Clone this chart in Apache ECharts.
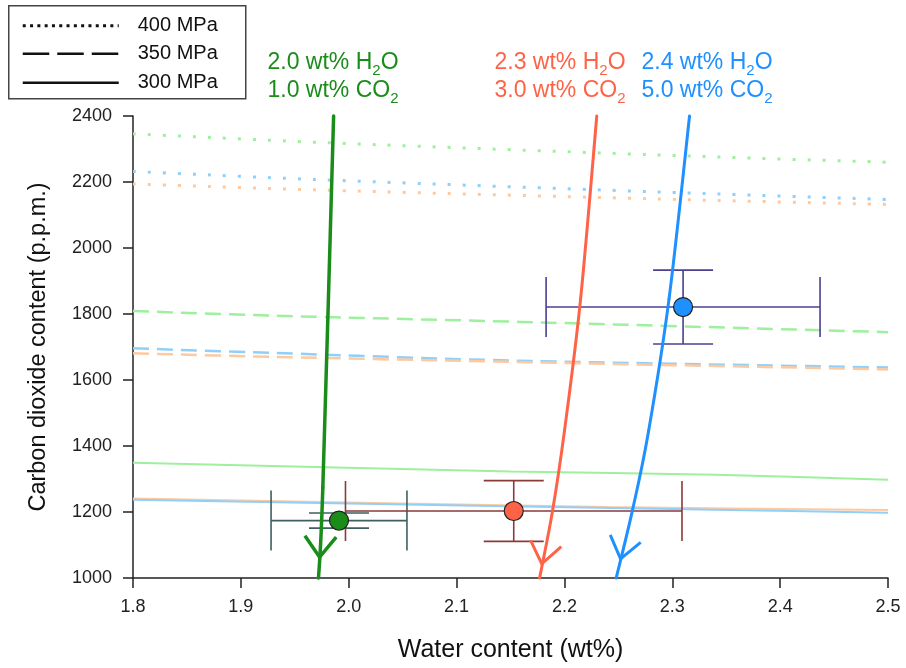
<!DOCTYPE html>
<html>
<head>
<meta charset="utf-8">
<script src="https://cdn.jsdelivr.net/npm/echarts@6/dist/echarts.min.js"></script>
<style>
  html, body { margin: 0; padding: 0; background: #fff; }
  #chart { width: 906px; height: 668px; }
</style>
</head>
<body>
<div id="chart"></div>
<script>
// Axis ticks
const xTicks = [1.8, 1.9, 2.0, 2.1, 2.2, 2.3, 2.4, 2.5];
const yTicks = [1000, 1200, 1400, 1600, 1800, 2000, 2200, 2400];

// Saturation isobars [H2O wt%, CO2 ppm] for the three melt compositions
const iso400Green  = [[1.80, 2346], [1.98, 2319], [2.33, 2277], [2.50, 2260]];
const iso400Blue   = [[1.80, 2232], [1.98, 2206], [2.33, 2165], [2.50, 2147]];
const iso400Orange = [[1.80, 2194], [1.98, 2175], [2.33, 2145], [2.50, 2132]];
const iso350Green  = [[1.80, 1809], [1.93, 1795], [2.16, 1776], [2.50, 1745]];
const iso350Blue   = [[1.80, 1696], [1.93, 1682], [2.15, 1659], [2.50, 1638]];
const iso350Orange = [[1.80, 1681], [1.93, 1670], [2.15, 1655], [2.50, 1632]];
const iso300Green  = [[1.80, 1349], [2.15, 1323], [2.34, 1313], [2.50, 1298]];
const iso300Orange = [[1.80, 1241], [2.24, 1215], [2.50, 1206]];
const iso300Blue   = [[1.80, 1237], [2.34, 1207], [2.50, 1198]];

// Degassing paths
const pathGreen  = [[1.986, 2400], [1.976, 1274], [1.972, 1000]];
const pathOrange = [[2.230, 2400], [2.215, 1846], [2.200, 1445], [2.189, 1204], [2.177, 1000]];
const pathBlue   = [[2.316, 2400], [2.297, 1846], [2.278, 1445], [2.263, 1204], [2.248, 1000]];
// Arrowhead tips on each path, and a point further up each path for the direction
const arrowTips = [[1.973, 1063], [2.179, 1043], [2.252, 1058]];
const arrowFrom = [[1.976, 1274], [2.189, 1204], [2.263, 1204]];

// Measured inclusions: H2O, CO2, H2O error, CO2 error
const sampleH2O    = [1.991, 2.153, 2.310];
const sampleCO2    = [1174, 1203, 1821];
const sampleH2OErr = [0.063, 0.156, 0.127];
const sampleCO2Err = [23, 92, 112];

// Melt composition labels
const meltH2O = ['2.0', '2.3', '2.4'];
const meltCO2 = ['1.0', '3.0', '5.0'];

const cGreen = '#1a8c1a', cOrange = '#ff6347', cBlue = '#1e90ff';
const lightGreen = '#9ef09e', lightBlue = '#8fd0fa', lightOrange = '#ffc9a0';
const errColors = ['#3f5f5f', '#8b3a3a', '#4b3f8f'];
const pathColors = [cGreen, cOrange, cBlue];
const FONT = 'Liberation Sans, Arial, sans-serif';

function isobar(data, color, type) {
  const ls = { color: color, width: type === 'dotted' ? 3 : (type === 'dashed' ? 2.5 : 2), cap: 'butt' };
  if (type === 'dotted') ls.type = [3, 12];
  else if (type === 'dashed') ls.type = [16, 8];
  return { type: 'line', data: data, showSymbol: false, smooth: 0.3, lineStyle: ls, z: 1, silent: true };
}

// Degassing path drawn as a Catmull-Rom spline through its points
function spline(data, color, w) {
  return {
    type: 'custom', z: 3, silent: true, data: data,
    renderItem: function (params, api) {
      const i = params.dataIndex, n = data.length;
      if (i >= n - 1) return { type: 'group', children: [] };
      const P = function (k) { k = Math.max(0, Math.min(n - 1, k)); return api.coord(data[k]); };
      const p0 = P(i - 1), p1 = P(i), p2 = P(i + 1), p3 = P(i + 2);
      return {
        type: 'bezierCurve',
        shape: {
          x1: p1[0], y1: p1[1], x2: p2[0], y2: p2[1],
          cpx1: p1[0] + (p2[0] - p0[0]) / 6, cpy1: p1[1] + (p2[1] - p0[1]) / 6,
          cpx2: p2[0] - (p3[0] - p1[0]) / 6, cpy2: p2[1] - (p3[1] - p1[1]) / 6
        },
        style: { stroke: color, lineWidth: w, fill: null, lineCap: 'round' }
      };
    }
  };
}

const chart = echarts.init(document.getElementById('chart'));

const labelGraphics = [];
const labelCenters = [333, 560, 707];
meltH2O.forEach(function (h, i) {
  const rich = {
    n: { fontSize: 23, fontFamily: FONT, fill: pathColors[i], lineHeight: 27, verticalAlign: 'top' },
    s: { fontSize: 15, fontFamily: FONT, fill: pathColors[i], lineHeight: 10, verticalAlign: 'bottom' }
  };
  labelGraphics.push({
    type: 'text', x: labelCenters[i], y: 51,
    style: { text: '{n|' + h + ' wt% H}{s|2}{n|O}', rich: rich, fill: pathColors[i], align: 'center', verticalAlign: 'top' }
  });
  labelGraphics.push({
    type: 'text', x: labelCenters[i], y: 79,
    style: { text: '{n|' + meltCO2[i] + ' wt% CO}{s|2}', rich: rich, fill: pathColors[i], align: 'center', verticalAlign: 'top' }
  });
});

const legendText = { fontSize: 20, fontFamily: FONT, fill: '#111', verticalAlign: 'middle' };
const legendGraphic = {
  type: 'group', left: 8, top: 5,
  children: [
    { type: 'rect', shape: { x: 0, y: 0, width: 237, height: 93 }, style: { fill: '#fff', stroke: '#444', lineWidth: 1.5 } },
    { type: 'line', shape: { x1: 14, y1: 20, x2: 110, y2: 20 }, style: { stroke: '#111', lineWidth: 3, lineDash: [3, 4.3] } },
    { type: 'line', shape: { x1: 14, y1: 48, x2: 110, y2: 48 }, style: { stroke: '#111', lineWidth: 2.5, lineDash: [26.5, 8] } },
    { type: 'line', shape: { x1: 14, y1: 77, x2: 110, y2: 77 }, style: { stroke: '#111', lineWidth: 2.5 } },
    { type: 'text', x: 129, y: 20, style: Object.assign({ text: '400 MPa' }, legendText) },
    { type: 'text', x: 129, y: 48, style: Object.assign({ text: '350 MPa' }, legendText) },
    { type: 'text', x: 129, y: 77, style: Object.assign({ text: '300 MPa' }, legendText) }
  ]
};

const samples = sampleH2O.map(function (x, i) {
  return [x, sampleCO2[i], sampleH2OErr[i], sampleCO2Err[i]];
});

const option = {
  animation: false,
  backgroundColor: '#fff',
  grid: { left: 133, right: 18, top: 116, bottom: 87 },
  xAxis: {
    type: 'value', min: xTicks[0], max: xTicks[xTicks.length - 1], interval: 0.1,
    name: 'Water content (wt%)', nameLocation: 'middle', nameGap: 60,
    nameTextStyle: { fontSize: 25, fontFamily: FONT, color: '#111' },
    axisLine: { lineStyle: { color: '#222', width: 1.5 } },
    axisTick: { length: 10, lineStyle: { color: '#222', width: 1.5 } },
    axisLabel: { fontSize: 18, fontFamily: FONT, color: '#222', margin: 20, formatter: function (v) { return v.toFixed(1); } },
    splitLine: { show: false }
  },
  yAxis: {
    type: 'value', min: yTicks[0], max: yTicks[yTicks.length - 1], interval: 200,
    name: 'Carbon dioxide content (p.p.m.)', nameLocation: 'middle', nameGap: 82,
    nameTextStyle: { fontSize: 23.5, fontFamily: FONT, color: '#111' },
    axisLine: { lineStyle: { color: '#222', width: 1.5 } },
    axisTick: { length: 10, lineStyle: { color: '#222', width: 1.5 } },
    axisLabel: { fontSize: 18, fontFamily: FONT, color: '#222', margin: 21, formatter: function (v) { return String(v); } },
    splitLine: { show: false }
  },
  graphic: [legendGraphic].concat(labelGraphics),
  series: [
    isobar(iso400Green, lightGreen, 'dotted'),
    isobar(iso400Blue, lightBlue, 'dotted'),
    isobar(iso400Orange, lightOrange, 'dotted'),
    isobar(iso350Green, lightGreen, 'dashed'),
    isobar(iso350Blue, lightBlue, 'dashed'),
    isobar(iso350Orange, lightOrange, 'dashed'),
    isobar(iso300Green, lightGreen, 'solid'),
    isobar(iso300Orange, lightOrange, 'solid'),
    isobar(iso300Blue, lightBlue, 'solid'),
    {
      type: 'custom', z: 2, silent: true, data: samples,
      renderItem: function (params, api) {
        const x = api.value(0), y = api.value(1), ex = api.value(2), ey = api.value(3);
        const l = api.coord([x - ex, y]), r = api.coord([x + ex, y]);
        const t = api.coord([x, y + ey]), b = api.coord([x, y - ey]);
        const cap = 30;
        const st = { stroke: errColors[params.dataIndex], lineWidth: 1.6 };
        const seg = function (x1, y1, x2, y2) { return { type: 'line', shape: { x1: x1, y1: y1, x2: x2, y2: y2 }, style: st }; };
        return {
          type: 'group', children: [
            seg(l[0], l[1], r[0], r[1]),
            seg(l[0], l[1] - cap, l[0], l[1] + cap),
            seg(r[0], r[1] - cap, r[0], r[1] + cap),
            seg(t[0], t[1], b[0], b[1]),
            seg(t[0] - cap, t[1], t[0] + cap, t[1]),
            seg(b[0] - cap, b[1], b[0] + cap, b[1])
          ]
        };
      }
    },
    spline(pathGreen, cGreen, 3.5),
    spline(pathOrange, cOrange, 3),
    spline(pathBlue, cBlue, 3),
    {
      type: 'custom', z: 3, silent: true,
      data: arrowTips.map(function (p, i) { return [p[0], p[1], arrowFrom[i][0], arrowFrom[i][1]]; }),
      renderItem: function (params, api) {
        const tip = api.coord([api.value(0), api.value(1)]);
        const from = api.coord([api.value(2), api.value(3)]);
        let dx = from[0] - tip[0], dy = from[1] - tip[1];
        const len = Math.sqrt(dx * dx + dy * dy); dx /= len; dy /= len;
        const L = 26, a = 37 * Math.PI / 180;
        const rot = function (ang) { return [tip[0] + L * (dx * Math.cos(ang) - dy * Math.sin(ang)), tip[1] + L * (dx * Math.sin(ang) + dy * Math.cos(ang))]; };
        const p1 = rot(a), p2 = rot(-a);
        return {
          type: 'polyline', shape: { points: [p1, tip, p2] },
          style: { stroke: pathColors[params.dataIndex], lineWidth: params.dataIndex === 0 ? 3.5 : 3, fill: null, lineJoin: 'miter' }
        };
      }
    },
    {
      type: 'scatter', z: 4, silent: true, symbolSize: 19,
      data: sampleH2O.map(function (x, i) {
        return { value: [x, sampleCO2[i]], itemStyle: { color: pathColors[i], opacity: 1, borderColor: '#222', borderWidth: 1.2 } };
      })
    }
  ]
};
chart.setOption(option);
</script>
</body>
</html>
